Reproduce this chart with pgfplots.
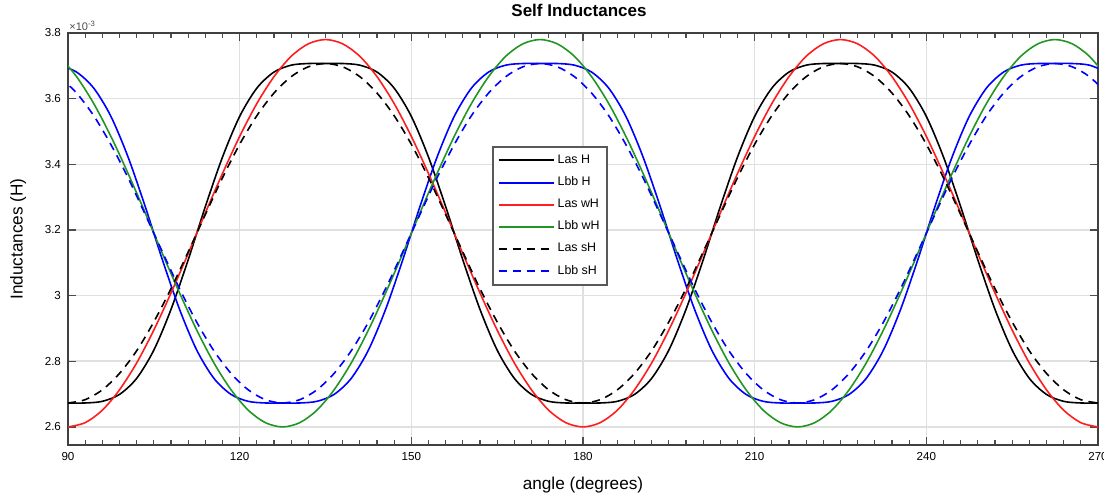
\documentclass[border=0pt]{standalone}
\usepackage{fontspec}
\setmainfont{Liberation Sans}
\usepackage{pgfplots}
\pgfplotsset{compat=1.18}
\usepackage{pgfplotstable}

% phase a curves, sampled every 3 degrees
\pgfplotstableread{
theta LasH LaswH LassH
90 2.673 2.600 2.673
93 2.673 2.613 2.683
96 2.678 2.651 2.713
99 2.699 2.713 2.763
102 2.748 2.795 2.832
105 2.834 2.895 2.920
108 2.958 3.008 3.021
111 3.109 3.128 3.133
114 3.271 3.252 3.247
117 3.422 3.372 3.359
120 3.546 3.485 3.461
123 3.632 3.585 3.548
126 3.681 3.667 3.617
129 3.702 3.729 3.667
132 3.707 3.767 3.697
135 3.707 3.780 3.707
138 3.707 3.767 3.697
141 3.702 3.729 3.667
144 3.681 3.667 3.617
147 3.632 3.585 3.548
150 3.546 3.485 3.461
153 3.422 3.372 3.359
156 3.271 3.252 3.247
159 3.109 3.128 3.133
162 2.958 3.008 3.021
165 2.834 2.895 2.920
168 2.748 2.795 2.832
171 2.699 2.713 2.763
174 2.678 2.651 2.713
177 2.673 2.613 2.683
180 2.673 2.600 2.673
183 2.673 2.613 2.683
186 2.678 2.651 2.713
189 2.699 2.713 2.763
192 2.748 2.795 2.832
195 2.834 2.895 2.920
198 2.958 3.008 3.021
201 3.109 3.128 3.133
204 3.271 3.252 3.247
207 3.422 3.372 3.359
210 3.546 3.485 3.461
213 3.632 3.585 3.548
216 3.681 3.667 3.617
219 3.702 3.729 3.667
222 3.707 3.767 3.697
225 3.707 3.780 3.707
228 3.707 3.767 3.697
231 3.702 3.729 3.667
234 3.681 3.667 3.617
237 3.632 3.585 3.548
240 3.546 3.485 3.461
243 3.422 3.372 3.359
246 3.271 3.252 3.247
249 3.109 3.128 3.133
252 2.958 3.008 3.021
255 2.834 2.895 2.920
258 2.748 2.795 2.832
261 2.699 2.713 2.763
264 2.678 2.651 2.713
267 2.673 2.613 2.683
270 2.673 2.600 2.673
}\lasdata

% phase b curves
\pgfplotstableread{
theta LbbH LbbwH LbbsH
88.5 3.702 3.729 3.667
91.5 3.681 3.667 3.617
94.5 3.632 3.585 3.548
97.5 3.546 3.485 3.460
100.5 3.422 3.372 3.359
103.5 3.271 3.252 3.247
106.5 3.109 3.128 3.133
109.5 2.958 3.008 3.021
112.5 2.834 2.895 2.919
115.5 2.748 2.795 2.832
118.5 2.699 2.713 2.763
121.5 2.678 2.651 2.713
124.5 2.673 2.613 2.683
127.5 2.673 2.600 2.673
130.5 2.673 2.613 2.683
133.5 2.678 2.651 2.713
136.5 2.699 2.713 2.763
139.5 2.748 2.795 2.832
142.5 2.834 2.895 2.919
145.5 2.958 3.008 3.021
148.5 3.109 3.128 3.133
151.5 3.271 3.252 3.247
154.5 3.422 3.372 3.359
157.5 3.546 3.485 3.460
160.5 3.632 3.585 3.548
163.5 3.681 3.667 3.617
166.5 3.702 3.729 3.667
169.5 3.707 3.767 3.697
172.5 3.707 3.780 3.707
175.5 3.707 3.767 3.697
178.5 3.702 3.729 3.667
181.5 3.681 3.667 3.617
184.5 3.632 3.585 3.548
187.5 3.546 3.485 3.460
190.5 3.422 3.372 3.359
193.5 3.271 3.252 3.247
196.5 3.109 3.128 3.133
199.5 2.958 3.008 3.021
202.5 2.834 2.895 2.919
205.5 2.748 2.795 2.832
208.5 2.699 2.713 2.763
211.5 2.678 2.651 2.713
214.5 2.673 2.613 2.683
217.5 2.673 2.600 2.673
220.5 2.673 2.613 2.683
223.5 2.678 2.651 2.713
226.5 2.699 2.713 2.763
229.5 2.748 2.795 2.832
232.5 2.834 2.895 2.919
235.5 2.958 3.008 3.021
238.5 3.109 3.128 3.133
241.5 3.271 3.252 3.247
244.5 3.422 3.372 3.359
247.5 3.546 3.485 3.460
250.5 3.632 3.585 3.548
253.5 3.681 3.667 3.617
256.5 3.702 3.729 3.667
259.5 3.707 3.767 3.697
262.5 3.707 3.780 3.707
265.5 3.707 3.767 3.697
268.5 3.702 3.729 3.667
271.5 3.681 3.667 3.617
}\lbbdata

\definecolor{mgreen}{RGB}{34,150,34}
\definecolor{mred}{RGB}{255,30,30}

\begin{document}
\begin{tikzpicture}
\begin{axis}[
  at={(0,0)}, anchor=south west,
  width=515pt, height=206pt, scale only axis,
  xmin=90, xmax=270, ymin=2.545, ymax=3.8,
  xtick={90,120,150,180,210,240,270},
  minor x tick num=9,
  ytick={2.6,2.8,3,3.2,3.4,3.6,3.8},
  tick align=inside,
  major tick length=4pt, minor tick length=2.5pt,
  grid=major,
  major grid style={draw=black!12, line width=0.8pt},
  axis line style={draw=black!75, line width=0.9pt},
  tick style={draw=black!70, line width=0.6pt},
  /pgf/number format/assume math mode=true,
  tick label style={font=\fontsize{5.8}{7}\selectfont},
  xlabel={angle (degrees)},
  ylabel={Inductances (H)},
  label style={font=\fontsize{8.6}{10}\selectfont},
  xlabel style={at={(axis description cs:0.5,-0.097)}, anchor=center},
  ylabel style={at={(axis description cs:-0.0485,0.5)}, anchor=center},
  legend style={at={(0.468,0.556)}, anchor=center,
    font=\fontsize{6.2}{7}\selectfont,
    draw=black!65, line width=1pt, fill=white,
    row sep=2.4pt, inner sep=2.5pt,
    nodes={inner sep=1.4pt}},
  legend cell align=left,
  legend image code/.code={\draw[line width=1pt, #1] (0cm,0cm) -- (0.97cm,0cm);},
  every axis plot/.append style={line width=0.8pt, smooth},
]
\addplot[black] table[x=theta, y=LasH] {\lasdata};
\addplot[blue] table[x=theta, y=LbbH] {\lbbdata};
\addplot[mred] table[x=theta, y=LaswH] {\lasdata};
\addplot[mgreen] table[x=theta, y=LbbwH] {\lbbdata};
\addplot[black, dash pattern=on 4pt off 3pt] table[x=theta, y=LassH] {\lasdata};
\addplot[blue, dash pattern=on 4pt off 3pt] table[x=theta, y=LbbsH] {\lbbdata};
\legend{Las H, Lbb H, Las wH, Lbb wH, Las sH, Lbb sH}
\end{axis}
\node[anchor=base, font=\fontsize{8.5}{10}\selectfont\bfseries, inner sep=0pt]
  at ([xshift=-2pt,yshift=8pt]current axis.north) {Self Inductances};
\node[anchor=south west, font=\fontsize{5.5}{6}\selectfont, inner sep=0.5pt, text=black!70]
  at ([yshift=0.5pt]current axis.north west) {×10\textsuperscript{-3}};
\pgfresetboundingbox
\path ([xshift=-34pt,yshift=-26pt]current axis.south west) rectangle ([xshift=3pt,yshift=16.5pt]current axis.north east);
\end{tikzpicture}
\end{document}
